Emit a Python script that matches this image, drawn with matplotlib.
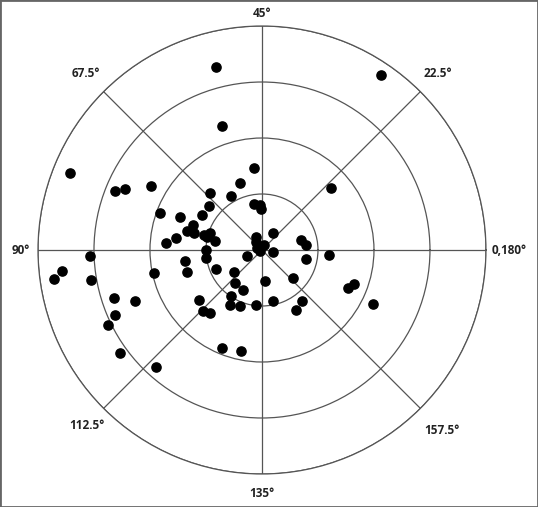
import numpy as np
import matplotlib
matplotlib.use("Agg")
import matplotlib.pyplot as plt
from matplotlib.patches import Rectangle

# double-angle plot: horizontal / vertical components (one ring = 1 unit)
x_comp = [-0.82, -0.71, -0.14, 2.13, -3.43, -2.63, -2.45, -1.98, -1.82, -1.46,
          -1.23, -1.07, -0.93, -0.95, -1.34, -1.21, -1.04, -0.93, -0.98, -0.84,
          -1.54, -1.71, -1.00, -1.00, -1.38, -1.34, -0.82, -3.07, -3.57, -3.71,
          -3.05, -1.93, -2.64, -2.27, -2.63, -2.75, -1.13, -1.05, -0.93, -2.54,
          -1.89, -0.71, -0.38, -0.39, -0.55, -0.14, -0.04, -0.02, 1.23, 0.20,
          -0.11, -0.11, 0.04, -0.04, -0.09, 0.20, -0.27, 0.70, 0.79, 0.79,
          1.20, -0.50, -0.48, -0.34, 0.05, 0.55, -0.55, -0.57, -0.39, -0.11,
          0.20, 0.71, 0.61, 1.54, 1.64, 1.98]
y_comp = [3.27, 2.21, 1.46, 3.13, 1.38, 1.05, 1.09, 1.14, 0.66, 0.59,
          0.45, 0.63, 1.02, 0.79, 0.34, 0.30, 0.27, 0.30, 0.23, 0.16,
          0.21, 0.13, 0.00, -0.14, -0.20, -0.39, -0.34, -0.11, -0.38, -0.52,
          -0.54, -0.41, -0.86, -0.91, -1.16, -1.34, -0.89, -1.09, -1.13, -1.84,
          -2.09, -1.75, -1.80, 1.20, 0.96, 0.82, 0.80, 0.73, 1.11, 0.30,
          0.23, 0.14, 0.09, -0.02, 0.04, -0.04, -0.11, 0.18, 0.09, -0.16,
          -0.09, -0.39, -0.59, -0.71, -0.55, -0.50, -0.82, -0.98, -1.00, -0.98,
          -0.91, -0.91, -1.07, -0.68, -0.61, -0.96]

axis_angles = [0, 22.5, 45, 67.5, 90, 112.5, 135, 157.5]
axis_labels = ["0,180°", "22.5°", "45°", "67.5°", "90°", "112.5°", "135°", "157.5°"]
rings = [1, 2, 3, 4]

x = np.array(x_comp)
y = np.array(y_comp)
theta = np.arctan2(y, x)
r = np.hypot(x, y)

fig = plt.figure(figsize=(5.38, 5.07), dpi=100)
ax = fig.add_axes([0.0706, 0.0651, 0.8327, 0.8836], projection="polar")

grid_col = "#555555"
ax.set_rlim(0, 4)
ax.set_rticks(rings)
ax.set_yticklabels([])
ax.set_thetagrids(np.arange(0, 360, 45), labels=[""] * 8)
ax.grid(True, color=grid_col, linewidth=0.9)
ax.spines["polar"].set_color(grid_col)
ax.spines["polar"].set_linewidth(0.9)

ax.scatter(theta, r, s=44, color="black", zorder=3, clip_on=False)

# angle labels sit just outside the outer ring (display angle = 2 x axis angle)
label_r = [4.42, 4.45, 4.23, 4.45, 4.3, 4.42, 4.34, 4.55]
for ang, lab, lr in zip(axis_angles, axis_labels, label_r):
    ax.text(np.deg2rad(2 * ang), lr, lab, ha="center", va="center",
            fontsize=8.5, fontweight="bold", family=["Open Sans", "DejaVu Sans"],
            color="#222222")

fig.patches.append(Rectangle((0, 0), 1, 1, transform=fig.transFigure,
                             fill=False, edgecolor="#666666", linewidth=2))

fig.savefig("out.png", dpi=100, facecolor="white")
